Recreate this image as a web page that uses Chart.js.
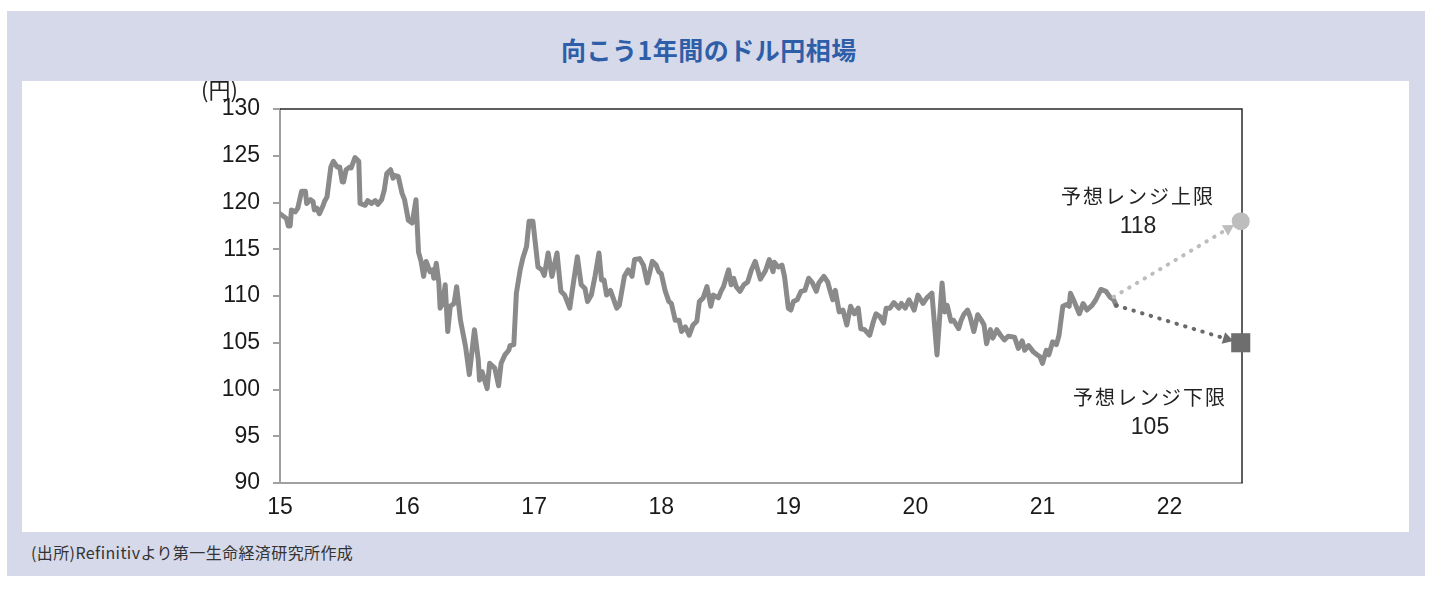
<!DOCTYPE html>
<html lang="ja">
<head>
<meta charset="utf-8">
<title>向こう1年間のドル円相場</title>
<script src="https://cdn.jsdelivr.net/npm/chart.js@4.4.1/dist/chart.umd.min.js"></script>
<style>
  body { margin: 0; background: #fff; width: 1430px; height: 592px; position: relative; overflow: hidden; }
  #frame { position: absolute; left: 7px; top: 11px; width: 1418px; height: 565px; background: #d5d9ea; }
  #title { position: absolute; left: 0; top: 24px; width: 1404px; text-align: center;
           font: bold 25px "Noto Sans CJK JP", sans-serif; letter-spacing: 0.5px; line-height: 28px; color: #2e5ea8; }
  #panel { position: absolute; left: 15px; top: 70px; width: 1387px; height: 451px; background: #fff; overflow: hidden; }
  #panel canvas { position: absolute; left: 0; top: 0; }
  #unit { position: absolute; left: 179px; top: -5px; font: 22px "Noto Sans CJK JP", sans-serif; line-height: 24px; color: #222; }
  .note { position: absolute; text-align: center; color: #222; }
  .note .jp { font: 20px "Noto Sans CJK JP", sans-serif; letter-spacing: 2px; line-height: 24px; }
  .note .num { font: 23px "Liberation Sans", sans-serif; line-height: 26px; margin-top: 4px; }
  #source { position: absolute; left: 24px; top: 529px; font: 16px "Noto Sans CJK JP", sans-serif; letter-spacing: 0.4px; color: #333; }
</style>
</head>
<body>
<div id="frame">
  <div id="title">向こう1年間のドル円相場</div>
  <div id="panel">
    <canvas id="grafico" width="1387" height="451"></canvas>
    <div id="unit">(円)</div>
    <div class="note" style="left:1036px;top:103px;width:160px;">
      <div class="jp">予想レンジ上限</div>
      <div class="num">118</div>
    </div>
    <div class="note" style="left:1048px;top:304px;width:160px;">
      <div class="jp">予想レンジ下限</div>
      <div class="num">105</div>
    </div>
  </div>
  <div id="source">(出所)Refinitivより第一生命経済研究所作成</div>
</div>

<script>
// datas em anos decimais (15 = 2015) e cotação USD/JPY
const datas = [
  15.00, 15.05, 15.065, 15.08, 15.09, 15.12, 15.14, 15.17, 15.20, 15.21,
  15.24, 15.26, 15.27, 15.29, 15.31, 15.34, 15.35, 15.37, 15.40, 15.42,
  15.45, 15.47, 15.49, 15.50, 15.52, 15.55, 15.56, 15.59, 15.62, 15.63,
  15.67, 15.69, 15.72, 15.75, 15.77, 15.80, 15.82, 15.84, 15.87, 15.89,
  15.90, 15.93, 15.96, 15.98, 16.01, 16.04, 16.07, 16.09, 16.11, 16.13,
  16.15, 16.18, 16.20, 16.21, 16.23, 16.25, 16.26, 16.28, 16.30, 16.32,
  16.34, 16.37, 16.39, 16.42, 16.46, 16.49, 16.53, 16.56, 16.57, 16.59,
  16.63, 16.65, 16.69, 16.72, 16.74, 16.77, 16.80, 16.81, 16.84, 16.86,
  16.89, 16.91, 16.94, 16.96, 16.99, 17.03, 17.06, 17.08, 17.11, 17.14,
  17.18, 17.21, 17.24, 17.28, 17.31, 17.34, 17.37, 17.40, 17.42, 17.45,
  17.48, 17.51, 17.53, 17.55, 17.57, 17.60, 17.65, 17.67, 17.71, 17.74,
  17.77, 17.79, 17.83, 17.86, 17.89, 17.93, 17.96, 17.98, 18.00, 18.03,
  18.06, 18.08, 18.11, 18.14, 18.16, 18.19, 18.22, 18.25, 18.28, 18.30,
  18.33, 18.36, 18.39, 18.41, 18.45, 18.47, 18.49, 18.53, 18.55, 18.57,
  18.59, 18.62, 18.65, 18.68, 18.71, 18.74, 18.78, 18.82, 18.85, 18.88,
  18.89, 18.92, 18.95, 18.97, 19.00, 19.02, 19.04, 19.07, 19.10, 19.13,
  19.16, 19.19, 19.22, 19.24, 19.28, 19.31, 19.33, 19.35, 19.37, 19.40,
  19.43, 19.46, 19.49, 19.52, 19.55, 19.57, 19.60, 19.64, 19.67, 19.69,
  19.72, 19.75, 19.77, 19.80, 19.83, 19.87, 19.89, 19.92, 19.95, 19.99,
  20.02, 20.06, 20.09, 20.13, 20.17, 20.21, 20.23, 20.25, 20.28, 20.30,
  20.34, 20.36, 20.38, 20.41, 20.43, 20.46, 20.49, 20.52, 20.54, 20.56,
  20.59, 20.61, 20.64, 20.67, 20.70, 20.73, 20.78, 20.81, 20.84, 20.86,
  20.89, 20.93, 20.96, 20.98, 21.00, 21.03, 21.05, 21.08, 21.11, 21.13,
  21.16, 21.19, 21.21, 21.22, 21.25, 21.29, 21.32, 21.35, 21.39, 21.42,
  21.46, 21.50, 21.53, 21.56, 21.58
];
const cotacao = [
  118.8, 118.3, 117.5, 117.5, 119.2, 119.0, 119.4, 121.2, 121.2, 119.9,
  120.3, 120.1, 119.2, 119.4, 118.8, 119.7, 120.1, 120.6, 123.8, 124.4,
  123.8, 123.8, 122.2, 122.2, 123.5, 123.8, 123.7, 124.8, 124.4, 119.9,
  119.7, 120.2, 119.9, 120.2, 119.8, 120.3, 121.3, 123.1, 123.5, 122.6,
  122.9, 122.8, 121.0, 120.3, 118.1, 117.8, 120.3, 114.7, 113.7, 112.1,
  113.7, 112.6, 112.8, 111.9, 113.5, 111.4, 108.7, 109.2, 111.2, 106.2,
  108.9, 109.2, 111.0, 107.4, 104.6, 101.6, 106.4, 103.2, 101.0, 101.9,
  100.1, 102.8, 102.3, 100.4, 102.8, 103.7, 104.2, 104.7, 104.8, 110.3,
  112.8, 114.0, 115.3, 118.0, 118.0, 113.1, 112.8, 112.2, 114.6, 112.1,
  114.6, 110.5, 110.1, 108.7, 111.5, 114.2, 111.2, 110.8, 109.4, 110.1,
  112.2, 114.6, 111.7, 111.7, 110.1, 110.6, 108.7, 109.0, 112.1, 112.8,
  112.1, 113.9, 114.0, 113.3, 111.4, 113.7, 113.3, 112.6, 112.4, 110.6,
  109.4, 109.2, 107.4, 107.4, 106.2, 106.7, 105.8, 106.9, 107.3, 109.4,
  109.8, 111.0, 108.9, 110.1, 109.8, 110.5, 111.0, 112.8, 111.2, 111.9,
  111.0, 110.5, 111.2, 111.5, 112.8, 113.7, 111.8, 112.7, 113.9, 112.6,
  113.6, 113.1, 113.3, 112.1, 108.7, 108.5, 109.4, 109.6, 110.5, 110.6,
  111.9, 111.4, 110.5, 111.4, 112.1, 111.5, 110.5, 109.6, 110.6, 108.3,
  108.5, 106.9, 108.9, 108.1, 108.7, 106.5, 106.4, 105.8, 107.3, 108.1,
  107.8, 107.1, 108.7, 108.7, 109.3, 108.7, 109.2, 108.7, 109.6, 108.5,
  110.1, 109.2, 109.8, 110.3, 103.7, 111.4, 108.3, 109.0, 107.3, 107.4,
  106.5, 107.4, 108.0, 108.5, 107.8, 106.2, 108.0, 107.4, 106.9, 104.9,
  106.4, 105.5, 106.4, 105.8, 105.3, 105.7, 105.6, 104.4, 105.2, 104.2,
  104.7, 104.0, 103.7, 103.5, 102.8, 104.2, 103.7, 105.1, 104.8, 105.8,
  108.9, 109.1, 108.9, 110.3, 109.4, 108.1, 109.2, 108.5, 109.0, 109.6,
  110.7, 110.5, 109.9, 109.6, 109.0
];

// previsão: início, ponta da seta, marcador final
const datasSuperior = [21.56, 22.46, 22.56];
const valoresSuperior = [109.9, 117.2, 118];
const datasInferior = [21.58, 22.45, 22.56];
const valoresInferior = [109.0, 105.4, 105];

const rotulosX = [15, 16, 17, 18, 19, 20, 21, 22];
const eixoX = { min: 15, max: 22.57 };
const eixoY = { min: 90, max: 130, passo: 5 };

const juntar = (xs, ys) => xs.map((x, i) => ({ x: x, y: ys[i] }));

// moldura superior e direita da área do gráfico
const moldura = {
  id: 'moldura',
  beforeDatasetsDraw(chart) {
    const { ctx, chartArea: a } = chart;
    ctx.save();
    ctx.strokeStyle = '#2a2a2a';
    ctx.lineWidth = 1.5;
    ctx.beginPath();
    ctx.moveTo(a.left, a.top);
    ctx.lineTo(a.right, a.top);
    ctx.lineTo(a.right, a.bottom);
    ctx.stroke();
    ctx.restore();
  }
};

const fonteNum = { family: '"Liberation Sans", sans-serif', size: 23 };

new Chart(document.getElementById('grafico'), {
  type: 'line',
  data: {
    datasets: [
      {
        data: juntar(datasSuperior, valoresSuperior),
        borderColor: '#bdbdbd', borderWidth: 4, borderDash: [0.5, 8.5], borderCapStyle: 'round',
        pointStyle: ['circle', 'triangle', 'circle'], pointRadius: [0, 7, 9],
        pointRotation: [0, 59, 0],
        pointBackgroundColor: '#bdbdbd', pointBorderWidth: 0,
        clip: false
      },
      {
        data: juntar(datasInferior, valoresInferior),
        borderColor: '#6a6a6a', borderWidth: 4, borderDash: [0.5, 8.5], borderCapStyle: 'round',
        pointStyle: ['circle', 'triangle', 'rect'], pointRadius: [0, 7, 13.5],
        pointRotation: [0, 107, 0],
        pointBackgroundColor: '#6e6e6e', pointBorderWidth: 0,
        clip: false
      },
      {
        data: juntar(datas, cotacao),
        borderColor: '#8a8a8a', borderWidth: 5, borderJoinStyle: 'round', borderCapStyle: 'round',
        pointRadius: 0, tension: 0
      }
    ]
  },
  options: {
    responsive: false,
    animation: false,
    events: [],
    layout: { padding: { left: 0, right: 167, top: 28, bottom: 0 } },
    plugins: { legend: { display: false }, tooltip: { enabled: false } },
    scales: {
      x: {
        type: 'linear', min: eixoX.min, max: eixoX.max,
        afterBuildTicks: (s) => { s.ticks = rotulosX.map(v => ({ value: v })); },
        afterFit: (s) => { s.height = 49; },
        grid: { display: false, drawTicks: false },
        border: { display: true, color: '#a0a0a0', width: 2 },
        ticks: { color: '#1a1a1a', font: fonteNum, padding: 11, maxRotation: 0, autoSkip: false,
                 callback: (v) => String(v) }
      },
      y: {
        min: eixoY.min, max: eixoY.max,
        afterFit: (s) => { s.width = 258; },
        grid: { drawOnChartArea: false, drawTicks: true, tickLength: 7, color: '#a0a0a0', lineWidth: 2 },
        border: { display: true, color: '#a0a0a0', width: 2 },
        ticks: { stepSize: eixoY.passo, color: '#1a1a1a', font: fonteNum, padding: 13 }
      }
    }
  },
  plugins: [moldura]
});
</script>
</body>
</html>
